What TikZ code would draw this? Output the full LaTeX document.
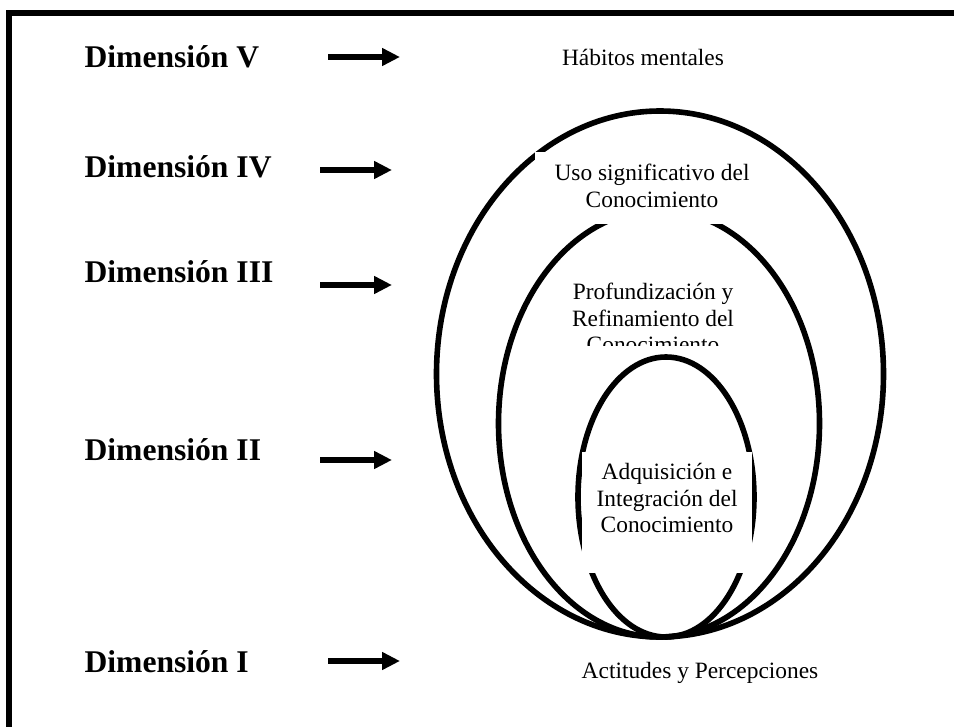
\documentclass[tikz,border=0pt]{standalone}
\usepackage{fontspec}
\setmainfont{Liberation Serif}
\usetikzlibrary{arrows.meta}

\begin{document}
\begin{tikzpicture}[x=0.5pt,y=-0.5pt,>={Triangle[length=9pt,width=8.5pt]},semithick]
          \tikzstyle{dim}=[anchor=west,inner sep=0pt,font=\fontsize{15.8}{18}\selectfont\bfseries]
          \tikzstyle{lvl}=[align=center,inner sep=0pt,font=\fontsize{11.7}{13.2}\selectfont]
          \tikzstyle{ring}=[draw=black,line width=2.8pt]
          \tikzstyle{dimarrow}=[->,line width=2.75pt]
          \useasboundingbox (0,0) rectangle (954,727);
          \draw[line width=3pt] (9,740) -- (9,13) -- (970,13);

          \draw[ring] (660,374) ellipse [x radius=223.5, y radius=263];
          \draw[ring] (659,423.5) ellipse [x radius=160.5, y radius=213.5];
          \draw[ring] (666,497) ellipse [x radius=88, y radius=140];

          \fill[white] (535,152) rectangle (769,224);
          \fill[white] (582,452) rectangle (752,573);

          \node[dim] (dV)   at (84,57)  {Dimensión V};
          \node[dim] (dIV)  at (84,167) {Dimensión IV};
          \node[dim] (dIII) at (84,272) {Dimensión III};
          \node[dim] (dII)  at (84,450) {Dimensión II};
          \node[dim] (dI)   at (84,662) {Dimensión I};

          \node[lvl] (hab) at (643,57)  {Hábitos mentales};
          \node[lvl] (uso) at (652,186) {Uso significativo del\\Conocimiento};
          \begin{scope}
            \clip (540,260) rectangle (770,346);
            \node[lvl] (prof) at (653,318) {Profundización y\\Refinamiento del\\Conocimiento};
          \end{scope}
          \node[lvl] (adq) at (667,498) {Adquisición e\\Integración del\\Conocimiento};
          \node[lvl] (act) at (700,673) {Actitudes y Percepciones};

          \coordinate (aV)   at (328,57);  \coordinate (bV)   at (400,57);
          \coordinate (aIV)  at (320,170); \coordinate (bIV)  at (392,170);
          \coordinate (aIII) at (320,285); \coordinate (bIII) at (392,285);
          \coordinate (aII)  at (320,460); \coordinate (bII)  at (392,460);
          \coordinate (aI)   at (328,661); \coordinate (bI)   at (400,661);

          \foreach \d in {V,IV,III,II,I}
            \draw[dimarrow] (a\d) -- (b\d);

        \end{tikzpicture}
\end{document}
